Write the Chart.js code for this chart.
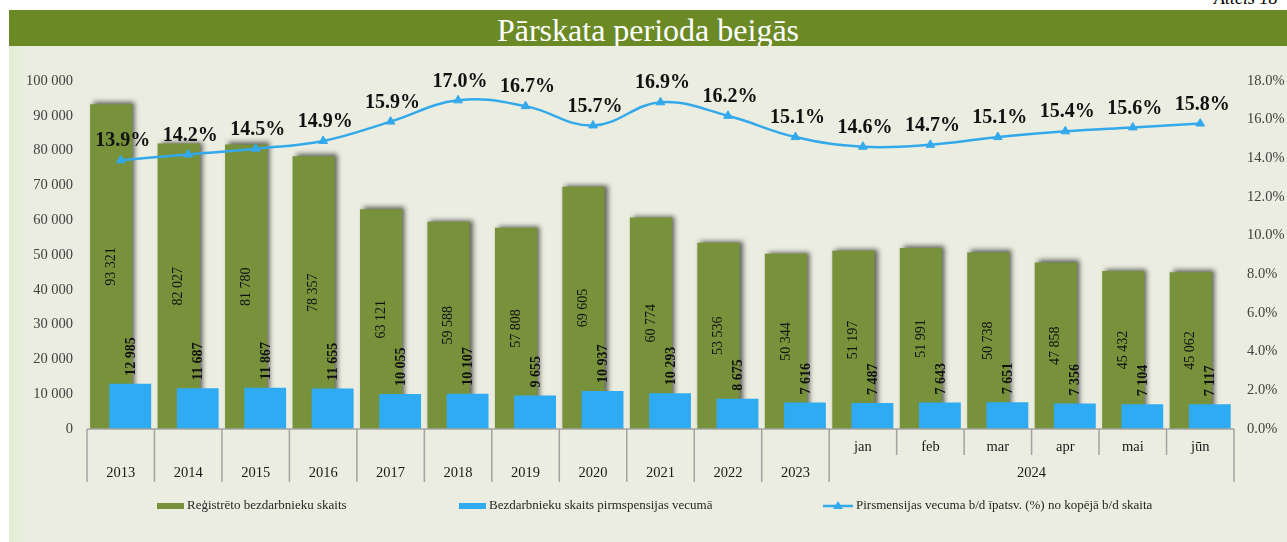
<!DOCTYPE html>
<html>
<head>
<meta charset="utf-8">
<script src="https://cdn.jsdelivr.net/npm/chart.js@4.4.1/dist/chart.umd.min.js"></script>
<style>
  html, body { margin:0; padding:0; background:#ffffff; width:1287px; height:542px; overflow:hidden; position:relative; }
  #caption { position:absolute; left:1214px; top:-12px; font:italic 18px "Liberation Serif", serif; color:#000; white-space:nowrap; }
  #titlebar { position:absolute; left:9px; top:10px; width:1278px; height:36px; background:#6B8A26; color:#fff;
              font:32px "Liberation Serif", serif; text-align:center; line-height:40px; overflow:visible; white-space:nowrap; }
  #panel { position:absolute; left:9px; top:46px; width:1278px; height:496px; background:#EAEDDF; }
  #strip { position:absolute; left:0; top:0; width:14px; height:496px; background:#E4EED8; }
  #c { position:absolute; left:0; top:0; }
</style>
</head>
<body>
<div id="caption">Attēls 18</div>
<div id="titlebar">Pārskata perioda beigās</div>
<div id="panel"><div id="strip"></div><canvas id="c" width="1278" height="496"></canvas></div>
<script>
// ---------- data ----------
const categories = ['2013','2014','2015','2016','2017','2018','2019','2020','2021','2022','2023','jan','feb','mar','apr','mai','jūn'];
const groupLabel = '2024';
const groupStart = 11; // first category belonging to the group label
const registered = [93321,82027,81780,78357,63121,59588,57808,69605,60774,53536,50344,51197,51991,50738,47858,45432,45062];
const prePension = [12985,11687,11867,11655,10055,10107,9655,10937,10293,8675,7616,7487,7643,7651,7356,7104,7117];
const sharePct   = [13.9,14.2,14.5,14.9,15.9,17.0,16.7,15.7,16.9,16.2,15.1,14.6,14.7,15.1,15.4,15.6,15.8];
const seriesNames = ['Reģistrēto bezdarbnieku skaits','Bezdarbnieku skaits pirmspensijas vecumā','Pirsmensijas vecuma b/d īpatsv. (%) no kopējā b/d skaita'];
const leftAxis  = { min:0, max:100000, step:10000 };
const rightAxis = { min:0, max:18, step:2 };

// ---------- styling ----------
const GREEN = '#77923B', BLUE = '#2EABF3', LINEC = '#33A9EC';
const SERIF = '"Liberation Serif", "Times New Roman", serif';
const TXT = '#404040';
const fmtThousands = v => String(v).replace(/\B(?=(\d{3})+(?!\d))/g, ' ');

const G = 0, B = 1, L = 2;

const layers = {
  id: 'layers',
  beforeDatasetDraw(chart, args) {
    if (args.index === B) return false;           // drawn later, on top of green
    if (args.index === G) {
      const c = chart.ctx; c.save();
      c.shadowColor = 'rgba(0,0,0,0.6)'; c.shadowBlur = 5; c.shadowOffsetX = 3; c.shadowOffsetY = -2;
    }
  },
  afterDatasetDraw(chart, args) {
    if (args.index === G) {
      chart.ctx.restore();
      chart.getDatasetMeta(B).controller.draw();
    }
  },
  afterDraw(chart) {
    const c = chart.ctx, xs = chart.scales.x, area = chart.chartArea;
    const n = categories.length;
    const half = (xs.getPixelForValue(1) - xs.getPixelForValue(0)) / 2;
    const yBase = area.bottom;

    // --- category axis (two-level) ---
    c.save();
    c.strokeStyle = '#A3A3A3'; c.lineWidth = 1.5;
    c.beginPath(); c.moveTo(xs.getPixelForValue(0) - half, yBase); c.lineTo(xs.getPixelForValue(n-1) + half, yBase); c.stroke();
    for (let k = 0; k <= n; k++) {
      const x = (k < n ? xs.getPixelForValue(k) - half : xs.getPixelForValue(n-1) + half);
      const long = (k <= groupStart || k === n);
      c.beginPath(); c.moveTo(x, yBase); c.lineTo(x, yBase + (long ? 53 : 26)); c.stroke();
    }
    c.fillStyle = '#1a1a1a'; c.font = '14.5px ' + SERIF; c.textAlign = 'center'; c.textBaseline = 'middle';
    categories.forEach((lab, i) => {
      const x = xs.getPixelForValue(i);
      c.fillText(lab, x, i < groupStart ? yBase + 44 : yBase + 18);
    });
    const gx = (xs.getPixelForValue(groupStart) + xs.getPixelForValue(n-1)) / 2;
    c.fillText(groupLabel, gx, yBase + 44);

    // --- data labels ---
    const mg = chart.getDatasetMeta(G), mb = chart.getDatasetMeta(B), ml = chart.getDatasetMeta(L);
    c.fillStyle = '#111';
    mg.data.forEach((el, i) => {
      c.save(); c.translate(el.x, (el.y + el.base) / 2); c.rotate(-Math.PI/2);
      c.font = '14px ' + SERIF; c.textAlign = 'center'; c.textBaseline = 'middle';
      c.fillText(fmtThousands(registered[i]), 0, 0); c.restore();
    });
    mb.data.forEach((el, i) => {
      c.save(); c.translate(el.x + 1, el.y - 8); c.rotate(-Math.PI/2);
      c.font = 'bold 14px ' + SERIF; c.textAlign = 'left'; c.textBaseline = 'middle';
      c.fillText(fmtThousands(prePension[i]), 0, 0); c.restore();
    });
    ml.data.forEach((el, i) => {
      c.font = 'bold 20px ' + SERIF; c.textAlign = 'center'; c.textBaseline = 'bottom';
      c.fillText(sharePct[i].toFixed(1) + '%', el.x + 2, el.y - 9);
    });

    // --- legend ---
    const lx = [148, 450, 814];
    const ly = 460;
    c.font = '13px ' + SERIF; c.textAlign = 'left'; c.textBaseline = 'middle'; 
    chart.data.datasets.forEach((ds, i) => {
      const x0 = lx[i];
      let tx;
      if (i < 2) {
        c.fillStyle = ds.backgroundColor; c.fillRect(x0, ly - 3, 27, 6); tx = x0 + 30;
      } else {
        c.strokeStyle = ds.borderColor; c.lineWidth = 2.5;
        c.beginPath(); c.moveTo(x0, ly); c.lineTo(x0 + 30, ly); c.stroke();
        c.fillStyle = ds.borderColor;
        c.beginPath(); c.moveTo(x0 + 15, ly - 5); c.lineTo(x0 + 20, ly + 3); c.lineTo(x0 + 10, ly + 3); c.closePath(); c.fill();
        tx = x0 + 33;
      }
      c.fillStyle = '#262626';
      c.fillText(ds.label, tx, ly);
    });
    c.restore();
  }
};

new Chart(document.getElementById('c'), {
  type: 'bar',
  data: {
    labels: categories,
    datasets: [
      { label: seriesNames[0], data: registered, backgroundColor: GREEN, yAxisID: 'y', order: 1,
        categoryPercentage: 0.564, barPercentage: 2.22 },
      { label: seriesNames[1], data: prePension, backgroundColor: BLUE, yAxisID: 'y', order: 2,
        categoryPercentage: 0.564, barPercentage: 2.2 },
      { label: seriesNames[2], type: 'line', data: sharePct, yAxisID: 'y1', order: 0,
        borderColor: LINEC, backgroundColor: LINEC, borderWidth: 2.5, tension: 0.4,
        pointStyle: 'triangle', pointRadius: 5, pointBorderWidth: 1, pointBackgroundColor: LINEC, pointBorderColor: LINEC }
    ]
  },
  options: {
    responsive: false,
    animation: false,
    devicePixelRatio: 1,
    layout: { padding: { top: 35, bottom: 113, left: 0, right: 0 } },
    plugins: { legend: { display: false }, tooltip: { enabled: false } },
    scales: {
      x: { display: false },
      y: {
        position: 'left', min: leftAxis.min, max: leftAxis.max,
        grid: { display: false, drawTicks: false }, border: { display: false },
        ticks: { stepSize: leftAxis.step, padding: 14, color: TXT, font: { family: SERIF, size: 14.5 },
                 callback: v => fmtThousands(v) },
        afterFit: s => { s.width = 78; }
      },
      y1: {
        position: 'right', min: rightAxis.min, max: rightAxis.max,
        grid: { display: false, drawTicks: false }, border: { display: false },
        ticks: { stepSize: rightAxis.step, padding: 13, color: TXT, font: { family: SERIF, size: 14.5 },
                 callback: v => v.toFixed(1) + '%' },
        afterFit: s => { s.width = 53; }
      }
    }
  },
  plugins: [layers]
});
</script>
</body>
</html>
